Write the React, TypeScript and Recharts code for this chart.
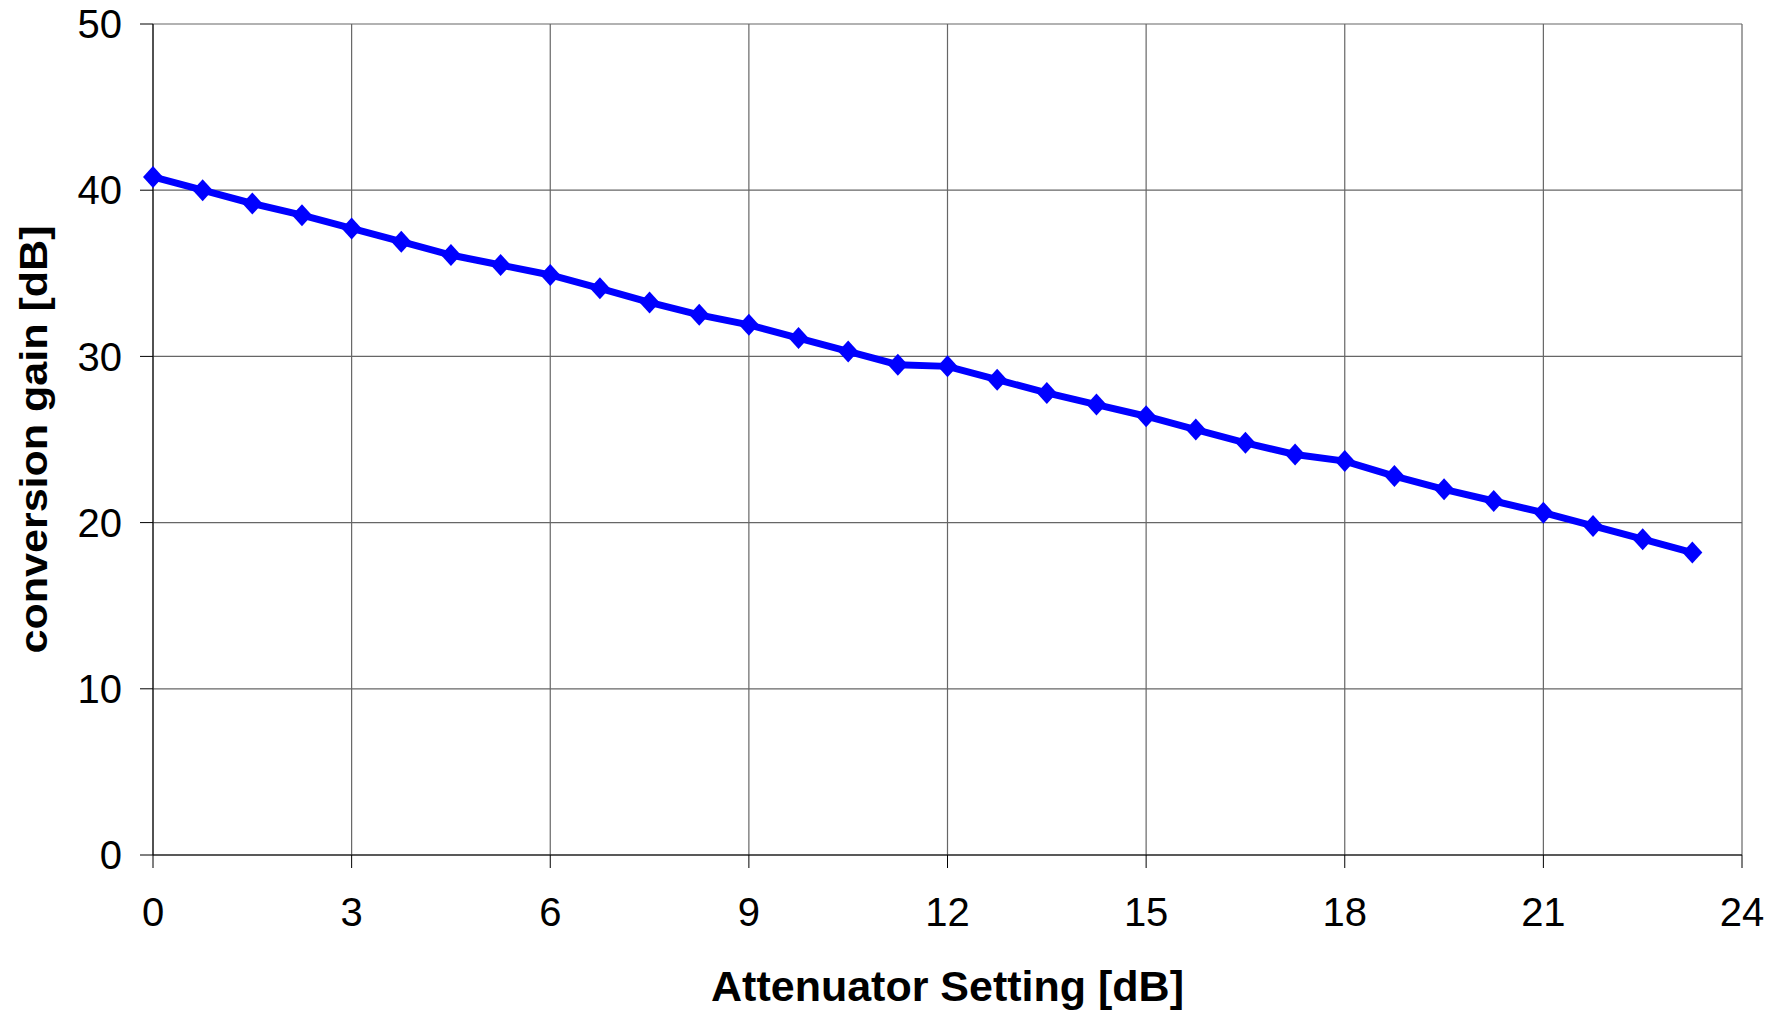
import React from 'react';
import {
  LineChart,
  Line,
  XAxis,
  YAxis,
  CartesianGrid,
} from 'recharts';

const attenuation = [
  0, 0.75, 1.5, 2.25, 3, 3.75, 4.5, 5.25, 6, 6.75, 7.5, 8.25, 9, 9.75, 10.5, 11.25,
  12, 12.75, 13.5, 14.25, 15, 15.75, 16.5, 17.25, 18, 18.75, 19.5, 20.25, 21, 21.75, 22.5, 23.25,
];
const gain = [
  40.8, 40.0, 39.2, 38.5, 37.7, 36.9, 36.1, 35.5, 34.9, 34.1, 33.25, 32.5, 31.9, 31.1, 30.3, 29.5,
  29.4, 28.6, 27.8, 27.1, 26.4, 25.6, 24.8, 24.1, 23.7, 22.8, 22.0, 21.3, 20.6, 19.8, 19.0, 18.2,
];
const xTicks = [0, 3, 6, 9, 12, 15, 18, 21, 24];
const yTicks = [0, 10, 20, 30, 40, 50];

const data = attenuation.map((x, i) => ({ x, gain: gain[i] }));

const FONT = '"Liberation Sans", Arial, sans-serif';

const Diamond = (props: any) => {
  const { cx, cy } = props;
  if (cx == null || cy == null) return null;
  const rx = 10;
  const ry = 11;
  return (
    <path
      d={`M${cx},${cy - ry} L${cx + rx},${cy} L${cx},${cy + ry} L${cx - rx},${cy} Z`}
      fill="#0000FF"
    />
  );
};

const YLabel = (props: any) => {
  const { viewBox } = props;
  const cy = viewBox.y + viewBox.height / 2;
  const x = 34;
  return (
    <text
      x={x}
      y={cy}
      transform={`rotate(-90 ${x} ${cy})`}
      textAnchor="middle"
      dominantBaseline="central"
      fontFamily={FONT}
      fontWeight="bold"
      fontSize={38}
      textLength={428}
      lengthAdjust="spacingAndGlyphs"
      fill="#000"
    >
      conversion gain [dB]
    </text>
  );
};

export default function App() {
  // pull the chart over the default body margin so it covers the whole window
  return (
    <div style={{ width: 1790, height: 1011, margin: '-8px 0 0 -8px', background: '#fff' }}>
      <LineChart
        width={1790}
        height={1011}
        data={data}
        margin={{ top: 24, right: 48, left: 0, bottom: 0 }}
      >
        <CartesianGrid stroke="#666" strokeWidth={1.2} />
        <XAxis
          dataKey="x"
          type="number"
          domain={[0, 24]}
          ticks={xTicks}
          interval={0}
          height={156}
          tickSize={13}
          tickMargin={30}
          stroke="#000"
          tickLine={{ stroke: '#000' }}
          tick={{ fill: '#000', fontSize: 40, fontFamily: FONT }}
          label={{
            value: 'Attenuator Setting [dB]',
            position: 'insideBottom',
            offset: 10,
            fill: '#000',
            fontSize: 43,
            fontWeight: 'bold',
            fontFamily: FONT,
          }}
        />
        <YAxis
          type="number"
          domain={[0, 50]}
          ticks={yTicks}
          interval={0}
          width={153}
          tickSize={13}
          tickMargin={18}
          stroke="#000"
          tickLine={{ stroke: '#000' }}
          tick={{ fill: '#000', fontSize: 40, fontFamily: FONT }}
          label={<YLabel />}
        />
        <Line
          type="linear"
          dataKey="gain"
          stroke="#0000FF"
          strokeWidth={7}
          dot={<Diamond />}
          activeDot={false}
          isAnimationActive={false}
        />
      </LineChart>
    </div>
  );
}
